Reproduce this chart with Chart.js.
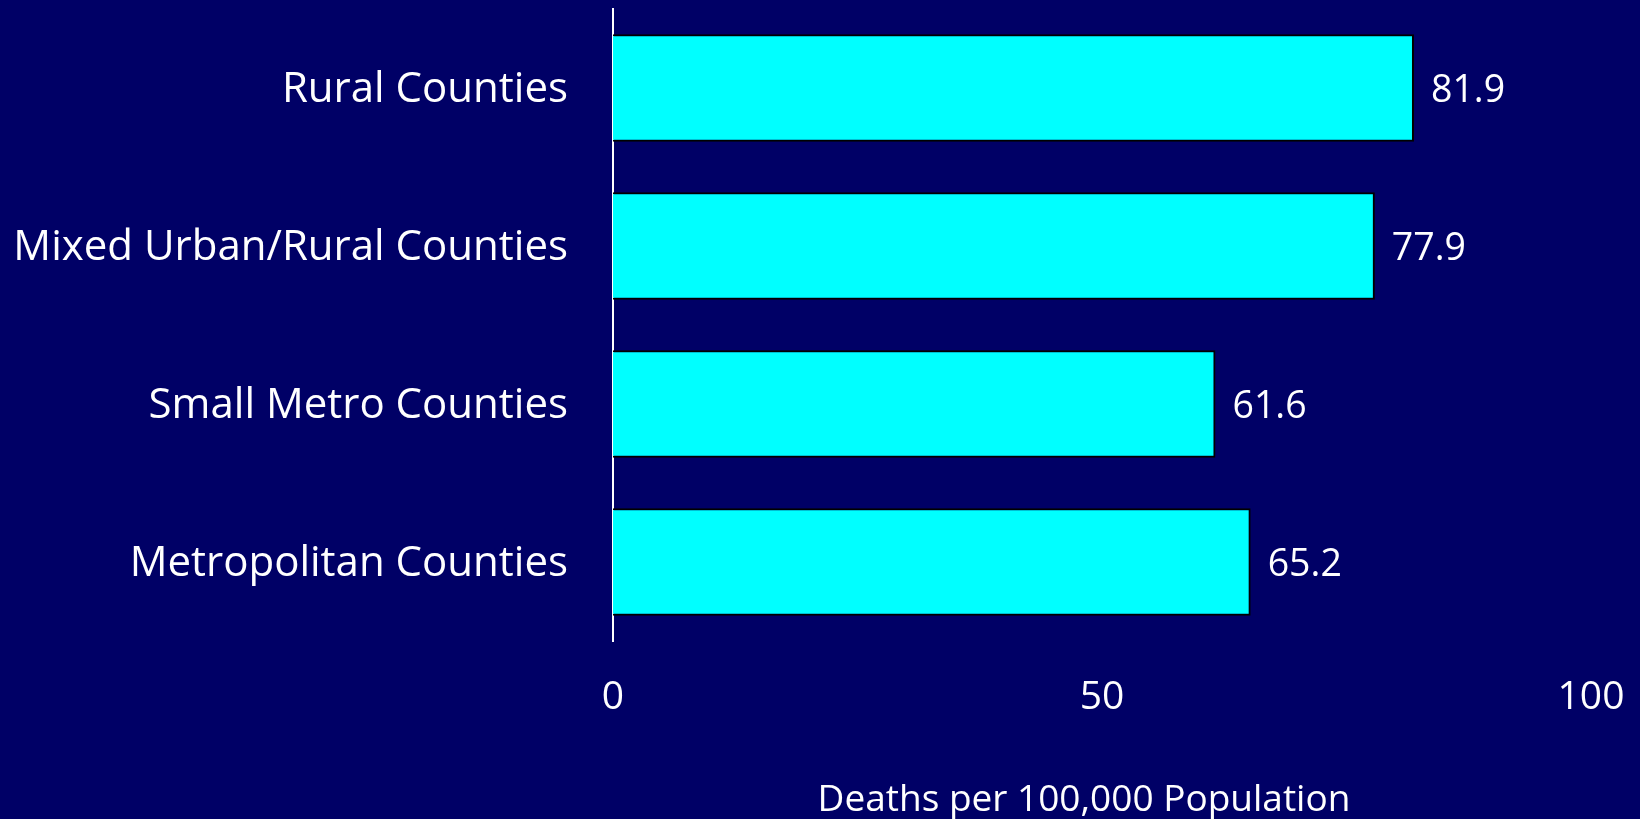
<!DOCTYPE html>
<html>
<head>
<meta charset="utf-8">
<script src="https://cdn.jsdelivr.net/npm/chart.js@4/dist/chart.umd.min.js"></script>
<style>
  html, body { margin: 0; padding: 0; background: #000066; }
  #wrap { width: 1640px; height: 819px; }
  canvas { display: block; }
</style>
</head>
<body>
<div id="wrap"><canvas id="c" width="1640" height="819"></canvas></div>
<script>
const categories = ["Rural Counties", "Mixed Urban/Rural Counties", "Small Metro Counties", "Metropolitan Counties"];
const deathRates = [81.9, 77.9, 61.6, 65.2];
const xTicks = [0, 50, 100];
const axisTitle = "Deaths per 100,000 Population";

const FONT = "'Open Sans', sans-serif";

const valueLabels = {
  id: 'valueLabels',
  afterDatasetsDraw(chart) {
    const ctx = chart.ctx;
    const meta = chart.getDatasetMeta(0);
    ctx.save();
    ctx.fillStyle = '#ffffff';
    ctx.font = "37.5px " + FONT;
    ctx.textAlign = 'left';
    ctx.textBaseline = 'middle';
    meta.data.forEach((bar, i) => {
      ctx.fillText(deathRates[i].toFixed(1), bar.x + 17, bar.y + 3);
    });
    ctx.restore();
  },
  afterDraw(chart) {
    const ctx = chart.ctx;
    ctx.save();
    ctx.fillStyle = '#ffffff';
    ctx.font = "37px " + FONT;
    ctx.textAlign = 'center';
    ctx.textBaseline = 'middle';
    ctx.fillText(axisTitle, 1084, 800);
    ctx.restore();
  }
};

new Chart(document.getElementById('c'), {
  type: 'bar',
  data: {
    labels: categories,
    datasets: [{
      data: deathRates,
      backgroundColor: '#00ffff',
      borderColor: '#000000',
      borderWidth: 2,
      borderSkipped: 'start',
      categoryPercentage: 0.68,
      barPercentage: 1.0
    }]
  },
  options: {
    indexAxis: 'y',
    responsive: false,
    animation: false,
    layout: { padding: { top: 9, right: 49, left: 0, bottom: 0 } },
    plugins: { legend: { display: false }, tooltip: { enabled: false } },
    scales: {
      x: {
        min: 0, max: 100,
        afterBuildTicks(scale) { scale.ticks = xTicks.map(v => ({ value: v })); },
        grid: { display: false, drawTicks: false },
        border: { display: false },
        ticks: { color: '#ffffff', font: { family: FONT, size: 39 }, padding: 33, maxRotation: 0 },
        afterFit(scale) { scale.height = 819 - 641; scale.paddingLeft = 0; scale.paddingRight = 0; }
      },
      y: {
        grid: { display: false, drawTicks: false },
        border: { display: true, color: '#ffffff', width: 2 },
        ticks: {
          color: '#ffffff',
          font: { family: FONT, size: 42 },
          padding: 45,
          labelOffset: 2
        },
        afterFit(scale) { scale.width = 613; scale.paddingTop = 0; scale.paddingBottom = 0; }
      }
    }
  },
  plugins: [valueLabels]
});
</script>
</body>
</html>
